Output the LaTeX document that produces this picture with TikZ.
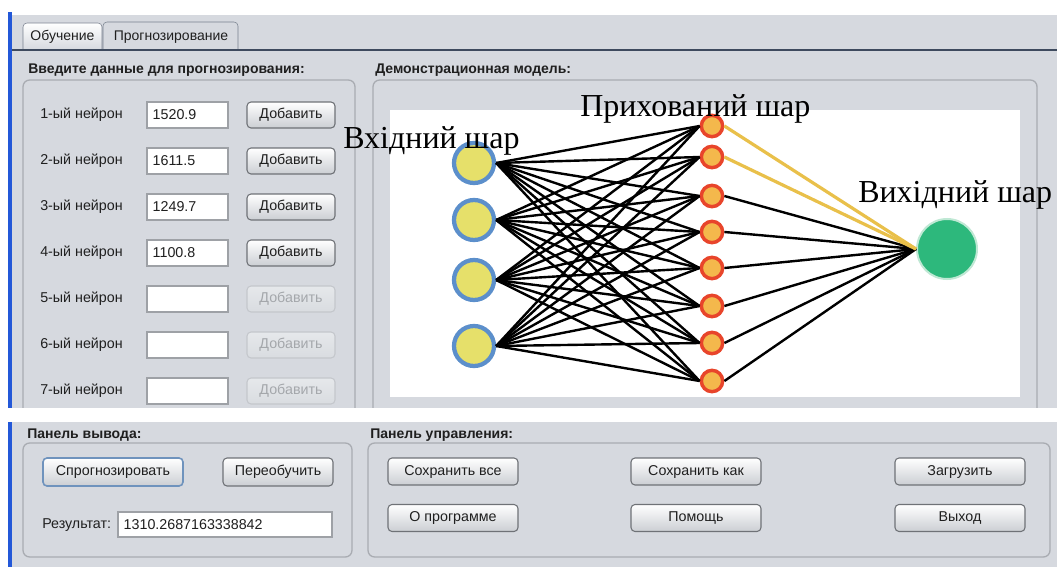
\documentclass[tikz,border=0pt]{standalone}
\usepackage{fontspec}
\setmainfont{Liberation Sans}
\newfontfamily\layerfont{Liberation Serif}
\usepackage{tikz}

\definecolor{winbg}{HTML}{D6D9DF}
\definecolor{winblue}{HTML}{2358D8}
\definecolor{tabline}{HTML}{3E4A5E}
\definecolor{panelline}{HTML}{A9ACB2}
\definecolor{btnline}{HTML}{6F7277}
\definecolor{btnbot}{HTML}{CBCED3}
\definecolor{offline}{HTML}{C4C7CC}
\definecolor{offtop}{HTML}{E6E8EB}
\definecolor{offbot}{HTML}{D9DCE0}
\definecolor{offtext}{HTML}{A4A7AB}
\definecolor{focusline}{HTML}{6F93BD}
\definecolor{fieldline}{HTML}{9EA1A6}
\definecolor{infill}{HTML}{E6E06A}
\definecolor{inring}{HTML}{5C8FCB}
\definecolor{hidfill}{HTML}{F4B84C}
\definecolor{hidring}{HTML}{E8452B}
\definecolor{outfill}{HTML}{2DB87C}
\definecolor{outhalo}{HTML}{BFE8D4}
\definecolor{gold}{HTML}{E9C04A}

\begin{document}
\begin{tikzpicture}
  [x=0.75pt,y=-0.75pt,
   every node/.style={font=\fontsize{10.7}{12}\selectfont,text=black!88},
   panel/.style={draw=panelline,line width=1pt,rounded corners=5pt,fill=winbg},
   head/.style={anchor=west,inner sep=0pt,font=\bfseries\fontsize{10.5}{12}\selectfont},
   btn/.style={draw=btnline,line width=0.8pt,rounded corners=3pt,top color=white,bottom color=btnbot,
               minimum width=66pt,minimum height=19.5pt,inner sep=0pt},
   btnoff/.style={btn,draw=offline,top color=offtop,bottom color=offbot,text=offtext},
   field/.style={draw=fieldline,line width=0.8pt,fill=white,minimum width=60.75pt,minimum height=19.5pt,inner sep=0pt},
   txt/.style={anchor=west,inner sep=0pt},
   inneuron/.style={circle,draw=inring,line width=3.2pt,fill=infill,minimum size=30pt,inner sep=0pt},
   hidneuron/.style={circle,draw=hidring,line width=2.6pt,fill=hidfill,minimum size=16pt,inner sep=0pt},
   outneuron/.style={circle,draw=outhalo,line width=1.5pt,fill=outfill,minimum size=45pt,inner sep=0pt},
   link/.style={line width=1.8pt,black},
   goldlink/.style={line width=2.4pt,gold},
   layer/.style={anchor=base west,inner sep=0pt,text=black,font=\layerfont\fontsize{24}{28}\selectfont}]

  \fill[white] (0,0) rectangle (1057,567);
  \useasboundingbox (0,0) rectangle (1057,567);
  \fill[winbg] (12,15) rectangle (1057,567);
  \fill[winblue] (8,12) rectangle (12,567);

  % tabs
  \draw[tabline!70,top color=white,bottom color=winbg,rounded corners=3pt] (23,50) -- (23,23) -- (102,23) -- (102,50);
  \draw[tabline!70,fill=winbg,rounded corners=3pt] (103,50) -- (103,22) -- (238,22) -- (238,50);
  \node[font=\fontsize{10.5}{12}\selectfont] (tab1) at (62.5,37) {Обучение};
  \node[font=\fontsize{10.5}{12}\selectfont] (tab2) at (171,37) {Прогнозирование};
  \draw[tabline,line width=1.6pt] (12,50) -- (1057,50);

  % panels, the upper two run into the white strip
  \begin{scope}
    \clip (0,0) rectangle (1057,408);
    \draw[panel] (23,80) rectangle (355,430);
    \draw[panel] (373,80) rectangle (1037,430);
  \end{scope}
  \draw[panel] (23,443) rectangle (352,557);
  \draw[panel] (368,443) rectangle (1050,557);
  \fill[white] (8,408) rectangle (1057,422);
  \fill[white] (390,110) rectangle (1020,397);

  \node[head] (h-input) at (28,70) {Введите данные для прогнозирования:};
  \node[head] (h-model) at (375,70) {Демонстрационная модель:};
  \node[head] (h-output) at (27,435) {Панель вывода:};
  \node[head] (h-control) at (370,435) {Панель управления:};

  % input rows
  \foreach \v [count=\i] in {1520.9,1611.5,1249.7,1100.8,{},{},{}} {
    \pgfmathsetmacro\y{115+46*(\i-1)}
    \node[txt] (lab\i) at (40,\y) {\i-ый нейрон};
    \node[field] (f\i) at (187.5,\y) {};
    \node[txt] (val\i) at ([xshift=4.5pt]f\i.west) {\v};
    \ifnum\i<5
      \node[btn] (add\i) at (291,\y) {Добавить};
    \else
      \node[btnoff] (add\i) at (291,\y) {Добавить};
    \fi
  }

  % the network
  \foreach \y [count=\i] in {163,220,280,346}
    \node[inneuron] (in\i) at (474,\y) {};
  \foreach \y [count=\j] in {126,157,196,232,268,306,343,381}
    \node[hidneuron] (h\j) at (712,\y) {};
  \node[outneuron] (out) at (947,249) {};

  \foreach \i in {1,...,4}
    \foreach \j in {1,...,8}
      \draw[link] (in\i.east) -- (h\j.west);
  \foreach \j in {3,...,8}
    \draw[link] (h\j.east) -- (out.west);
  \foreach \j in {1,2}
    \draw[goldlink] (h\j.east) -- (out.west);

  \node[layer] (inlabel) at (343,148) {Вхідний шар};
  \node[layer] (hidlabel) at (580,117) {Прихований шар};
  \node[layer] (outlabel) at (858,202) {Вихідний шар};

  % output panel
  \node[btn,draw=focusline,line width=1.2pt,minimum width=105pt,minimum height=21pt] (predict) at (113,472) {Спрогнозировать};
  \node[btn,minimum width=82.5pt,minimum height=21pt] (retrain) at (278,472) {Переобучить};
  \node[txt] (reslab) at (42,525) {Результат:};
  \node[field,minimum width=160.5pt,minimum height=18.75pt] (res) at (225,524.5) {};
  \node[txt] (resval) at ([xshift=4.5pt]res.west) {1310.2687163338842};

  % control panel
  \foreach \a/\b/\x [count=\k] in {Сохранить все/О программе/453,
                                   Сохранить как/Помощь/696,
                                   Загрузить/Выход/960} {
    \node[btn,minimum width=97.5pt,minimum height=20.25pt] (top\k) at (\x,471.5) {\a};
    \node[btn,minimum width=97.5pt,minimum height=20.25pt] (bot\k) at (\x,518) {\b};
  }
\end{tikzpicture}
\end{document}
